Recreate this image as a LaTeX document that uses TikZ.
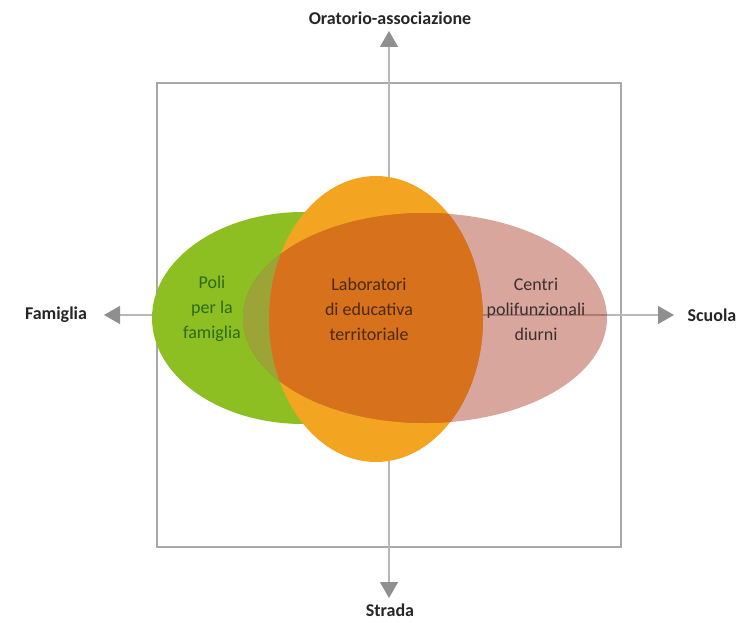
\documentclass[tikz,border=0pt]{standalone}
\usepackage{fontspec}
\setmainfont{Carlito}
\usetikzlibrary{arrows.meta}
\definecolor{verde}{HTML}{8DBE22}
\definecolor{arancio}{HTML}{F3A522}
\definecolor{rosa}{HTML}{A22B13}
\definecolor{oliva}{HTML}{9CA438}
\definecolor{scuro}{HTML}{D8711B}
\definecolor{cornice}{HTML}{A8A8A8}
\definecolor{asse}{HTML}{B8B8B8}
\definecolor{punta}{HTML}{8F8F8F}
\definecolor{verdescuro}{HTML}{2F6A1C}
\definecolor{marrone}{HTML}{4A2A10}
\definecolor{grigioscuro}{HTML}{3A3030}

\begin{document}
\begin{tikzpicture}[x=1pt, y=-1pt, font=\fontsize{18}{25}\selectfont,
  polo/.style={align=center},
  asselab/.style={font=\fontsize{18}{20}\selectfont\bfseries, text=black!85},
  axis/.style={draw=asse, line width=1.4pt,
    {Triangle[length=16pt,width=18pt,color=punta]}-{Triangle[length=16pt,width=18pt,color=punta]}}
]
\useasboundingbox (0,0) rectangle (744,623);
% frame and axes
\draw[cornice, line width=1.2pt] (157,83) rectangle (621,547);
\coordinate (pn) at (389,31);
\coordinate (ps) at (389,598);
\coordinate (po) at (104,315);
\coordinate (pe) at (674,315);
\draw[axis] (ps) -- (pn);
\draw[axis] (po) -- (pe);
% ellipses
\fill[verde] (303,318) ellipse [x radius=151pt, y radius=106pt];
\fill[arancio] (376,319) ellipse [x radius=107pt, y radius=143pt];
\fill[rosa, fill opacity=0.42] (425,318) ellipse [x radius=182pt, y radius=105pt];
% overlaps
\begin{scope}
  \clip (425,318) ellipse [x radius=182pt, y radius=105pt];
  \fill[oliva] (303,318) ellipse [x radius=151pt, y radius=106pt];
  \fill[scuro] (376,319) ellipse [x radius=107pt, y radius=143pt];
\end{scope}
% labels
\node[asselab] (nord) at (390,18) {Oratorio-associazione};
\node[asselab] (sud) at (390,610) {Strada};
\node[asselab] (ovest) at (56,315) {Famiglia};
\node[asselab] (est) at (712,315) {Scuola};
\node[polo, text=verdescuro] (poli) at (212,309) {Poli\\per la\\famiglia};
\node[polo, text=marrone] (lab) at (369,309) {Laboratori\\di educativa\\territoriale};
\node[polo, text=grigioscuro] (centri) at (536,309) {Centri\\polifunzionali\\diurni};
\end{tikzpicture}
\end{document}
